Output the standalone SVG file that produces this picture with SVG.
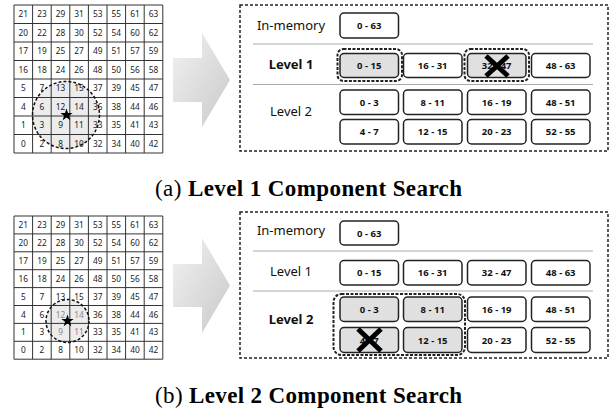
<svg xmlns="http://www.w3.org/2000/svg" width="611" height="411" viewBox="0 0 611 411">
<style>
.num{font-family:"Noto Sans","Liberation Sans",sans-serif;font-size:8.3px;fill:#222;text-anchor:middle}
.gnum{fill:#8a8a8a}
.grid{fill:none;stroke:#333;stroke-width:1}
.lbl{font-family:"Noto Sans","Liberation Sans",sans-serif;font-size:13px;fill:#111;text-anchor:middle}
.b{font-weight:bold}
.box{fill:#fff;stroke:#222;stroke-width:1.5}
.sel{fill:#e0e0e0}
.bt{font-family:"Noto Sans","Liberation Sans",sans-serif;font-size:9.5px;font-weight:bold;fill:#111;text-anchor:middle}
.panel{fill:none;stroke:#222;stroke-width:1.5;stroke-dasharray:3 2}
.dsel{fill:none;stroke:#222;stroke-width:2;stroke-dasharray:3 1.5}
.sep{stroke:#aaa;stroke-width:1}
.xm{stroke:#000;stroke-width:5}
.cap{font-family:"Liberation Serif","Times New Roman",serif;font-size:23px;fill:#000}
.arrow{fill:url(#ag)}
</style>
<defs>
<linearGradient id="ag" x1="0" y1="0" x2="1" y2="1">
<stop offset="0" stop-color="#f2f2f2"/>
<stop offset="1" stop-color="#c9c9c9"/>
</linearGradient>
<path id="star" d="M0,-6.5 L1.53,-2.1 L6.18,-2.01 L2.47,0.8 L3.82,5.26 L0,2.6 L-3.82,5.26 L-2.47,0.8 L-6.18,-2.01 L-1.53,-2.1 Z" fill="#000"/>
</defs>

<!-- ===== Top (a) grid ===== -->
<g id="gridA">
<circle cx="66" cy="115" r="33.5" fill="#ececec"/>
<path class="grid" d="M14,5 V153 M32.6,5 V153 M51.2,5 V153 M69.8,5 V153 M88.4,5 V153 M107,5 V153 M125.6,5 V153 M144.2,5 V153 M162.8,5 V153 M14,5 H162.8 M14,23.5 H162.8 M14,42 H162.8 M14,60.5 H162.8 M14,79 H162.8 M14,97.5 H162.8 M14,116 H162.8 M14,134.5 H162.8 M14,153 H162.8"/>
<g class="num">
<g transform="translate(0,17.3)"><text x="23.3">21</text><text x="41.9">23</text><text x="60.5">29</text><text x="79.1">31</text><text x="97.7">53</text><text x="116.3">55</text><text x="134.9">61</text><text x="153.5">63</text></g>
<g transform="translate(0,35.8)"><text x="23.3">20</text><text x="41.9">22</text><text x="60.5">28</text><text x="79.1">30</text><text x="97.7">52</text><text x="116.3">54</text><text x="134.9">60</text><text x="153.5">62</text></g>
<g transform="translate(0,54.3)"><text x="23.3">17</text><text x="41.9">19</text><text x="60.5">25</text><text x="79.1">27</text><text x="97.7">49</text><text x="116.3">51</text><text x="134.9">57</text><text x="153.5">59</text></g>
<g transform="translate(0,72.8)"><text x="23.3">16</text><text x="41.9">18</text><text x="60.5">24</text><text x="79.1">26</text><text x="97.7">48</text><text x="116.3">50</text><text x="134.9">56</text><text x="153.5">58</text></g>
<g transform="translate(0,91.3)"><text x="23.3">5</text><text x="41.9">7</text><text x="60.5">13</text><text x="79.1">15</text><text x="97.7">37</text><text x="116.3">39</text><text x="134.9">45</text><text x="153.5">47</text></g>
<g transform="translate(0,109.8)"><text x="23.3">4</text><text x="41.9">6</text><text x="60.5">12</text><text x="79.1">14</text><text x="97.7">36</text><text x="116.3">38</text><text x="134.9">44</text><text x="153.5">46</text></g>
<g transform="translate(0,128.3)"><text x="23.3">1</text><text x="41.9">3</text><text x="60.5">9</text><text x="79.1">11</text><text x="97.7">33</text><text x="116.3">35</text><text x="134.9">41</text><text x="153.5">43</text></g>
<g transform="translate(0,146.8)"><text x="23.3">0</text><text x="41.9">2</text><text x="60.5">8</text><text x="79.1">10</text><text x="97.7">32</text><text x="116.3">34</text><text x="134.9">40</text><text x="153.5">42</text></g>
</g>
<circle cx="66" cy="115" r="33.5" fill="none" stroke="#111" stroke-width="1.5" stroke-dasharray="3 2"/>
<use href="#star" x="66.5" y="115"/>
</g>

<!-- ===== Bottom (b) grid ===== -->
<g id="gridB">
<circle cx="67.5" cy="321" r="21.5" fill="#ececec"/>
<path class="grid" d="M14,216 V359.2 M32.6,216 V359.2 M51.2,216 V359.2 M69.8,216 V359.2 M88.4,216 V359.2 M107,216 V359.2 M125.6,216 V359.2 M144.2,216 V359.2 M162.8,216 V359.2 M14,216 H162.8 M14,233.9 H162.8 M14,251.8 H162.8 M14,269.7 H162.8 M14,287.6 H162.8 M14,305.5 H162.8 M14,323.4 H162.8 M14,341.3 H162.8 M14,359.2 H162.8"/>
<g class="num">
<g transform="translate(0,228)"><text x="23.3">21</text><text x="41.9">23</text><text x="60.5">29</text><text x="79.1">31</text><text x="97.7">53</text><text x="116.3">55</text><text x="134.9">61</text><text x="153.5">63</text></g>
<g transform="translate(0,245.9)"><text x="23.3">20</text><text x="41.9">22</text><text x="60.5">28</text><text x="79.1">30</text><text x="97.7">52</text><text x="116.3">54</text><text x="134.9">60</text><text x="153.5">62</text></g>
<g transform="translate(0,263.8)"><text x="23.3">17</text><text x="41.9">19</text><text x="60.5">25</text><text x="79.1">27</text><text x="97.7">49</text><text x="116.3">51</text><text x="134.9">57</text><text x="153.5">59</text></g>
<g transform="translate(0,281.7)"><text x="23.3">16</text><text x="41.9">18</text><text x="60.5">24</text><text x="79.1">26</text><text x="97.7">48</text><text x="116.3">50</text><text x="134.9">56</text><text x="153.5">58</text></g>
<g transform="translate(0,299.6)"><text x="23.3">5</text><text x="41.9">7</text><text x="60.5">13</text><text x="79.1">15</text><text x="97.7">37</text><text x="116.3">39</text><text x="134.9">45</text><text x="153.5">47</text></g>
<g transform="translate(0,317.5)"><text x="23.3">4</text><text x="41.9">6</text><text x="60.5" class="gnum">12</text><text x="79.1" class="gnum">14</text><text x="97.7">36</text><text x="116.3">38</text><text x="134.9">44</text><text x="153.5">46</text></g>
<g transform="translate(0,335.4)"><text x="23.3">1</text><text x="41.9">3</text><text x="60.5" class="gnum">9</text><text x="79.1" class="gnum">11</text><text x="97.7">33</text><text x="116.3">35</text><text x="134.9">41</text><text x="153.5">43</text></g>
<g transform="translate(0,353.3)"><text x="23.3">0</text><text x="41.9">2</text><text x="60.5">8</text><text x="79.1">10</text><text x="97.7">32</text><text x="116.3">34</text><text x="134.9">40</text><text x="153.5">42</text></g>
</g>
<circle cx="67.5" cy="321" r="21.5" fill="none" stroke="#111" stroke-width="1.5" stroke-dasharray="3 2"/>
<use href="#star" x="67.5" y="321"/>
</g>

<!-- ===== Arrows ===== -->
<g id="connectors">
<path class="arrow" d="M173,58 H202 V33 L230,80 L202,127 V102 H173 Z"/>
<path class="arrow" d="M173,264 H202 V238 L230,285.5 L202,333 V307 H173 Z"/>
</g>

<!-- ===== Panel (a) ===== -->
<g id="panelA">
<rect class="panel" x="240" y="5" width="368" height="146"/>
<line class="sep" x1="253" y1="44" x2="593" y2="44"/>
<line class="sep" x1="253" y1="84.5" x2="593" y2="84.5"/>
<text class="lbl" x="291" y="30">In-memory</text>
<text class="lbl b" x="291" y="69">Level 1</text>
<text class="lbl" x="291" y="116">Level 2</text>
<g id="a-mem"><rect class="box" x="340" y="13" width="58.5" height="25" rx="4"/><text class="bt" x="369.2" y="29">0 - 63</text></g>
<g id="a-l1-1"><rect class="dsel" x="337.5" y="49" width="64.5" height="32" rx="6"/><rect class="box sel" x="340" y="53.5" width="58.5" height="24" rx="4"/><text class="bt" x="369.2" y="69">0 - 15</text></g>
<g id="a-l1-2"><rect class="box" x="403.5" y="53.5" width="58.5" height="24" rx="4"/><text class="bt" x="432.7" y="69">16 - 31</text></g>
<g id="a-l1-3"><rect class="dsel" x="464.5" y="49" width="64.5" height="32" rx="6"/><rect class="box sel" x="467.5" y="53.5" width="58.5" height="24" rx="4"/><text class="bt" x="496.7" y="69">32 - 47</text><path class="xm" d="M486,56 L508,76 M508,56 L486,76"/></g>
<g id="a-l1-4"><rect class="box" x="531.5" y="53.5" width="58.5" height="24" rx="4"/><text class="bt" x="560.7" y="69">48 - 63</text></g>
<g id="a-l2-1"><rect class="box" x="340" y="90" width="58.5" height="24.5" rx="4"/><text class="bt" x="369.2" y="105.5">0 - 3</text></g>
<g id="a-l2-2"><rect class="box" x="403.5" y="90" width="58.5" height="24.5" rx="4"/><text class="bt" x="432.7" y="105.5">8 - 11</text></g>
<g id="a-l2-3"><rect class="box" x="467.5" y="90" width="58.5" height="24.5" rx="4"/><text class="bt" x="496.7" y="105.5">16 - 19</text></g>
<g id="a-l2-4"><rect class="box" x="531.5" y="90" width="58.5" height="24.5" rx="4"/><text class="bt" x="560.7" y="105.5">48 - 51</text></g>
<g id="a-l2-5"><rect class="box" x="340" y="119.5" width="58.5" height="24.5" rx="4"/><text class="bt" x="369.2" y="135">4 - 7</text></g>
<g id="a-l2-6"><rect class="box" x="403.5" y="119.5" width="58.5" height="24.5" rx="4"/><text class="bt" x="432.7" y="135">12 - 15</text></g>
<g id="a-l2-7"><rect class="box" x="467.5" y="119.5" width="58.5" height="24.5" rx="4"/><text class="bt" x="496.7" y="135">20 - 23</text></g>
<g id="a-l2-8"><rect class="box" x="531.5" y="119.5" width="58.5" height="24.5" rx="4"/><text class="bt" x="560.7" y="135">52 - 55</text></g>
</g>

<!-- ===== Panel (b) ===== -->
<g id="panelB">
<rect class="panel" x="240" y="212" width="368" height="146"/>
<line class="sep" x1="253" y1="251" x2="593" y2="251"/>
<line class="sep" x1="253" y1="291" x2="593" y2="291"/>
<text class="lbl" x="291" y="235">In-memory</text>
<text class="lbl" x="291" y="276">Level 1</text>
<text class="lbl b" x="291" y="324">Level 2</text>
<g id="b-mem"><rect class="box" x="340" y="221" width="58.5" height="24" rx="4"/><text class="bt" x="369.2" y="236.5">0 - 63</text></g>
<g id="b-l1-1"><rect class="box" x="340" y="260.5" width="58.5" height="24.5" rx="4"/><text class="bt" x="369.2" y="276">0 - 15</text></g>
<g id="b-l1-2"><rect class="box" x="403.5" y="260.5" width="58.5" height="24.5" rx="4"/><text class="bt" x="432.7" y="276">16 - 31</text></g>
<g id="b-l1-3"><rect class="box" x="467.5" y="260.5" width="58.5" height="24.5" rx="4"/><text class="bt" x="496.7" y="276">32 - 47</text></g>
<g id="b-l1-4"><rect class="box" x="531.5" y="260.5" width="58.5" height="24.5" rx="4"/><text class="bt" x="560.7" y="276">48 - 63</text></g>
<rect class="dsel" x="333.5" y="294" width="131.5" height="61" rx="8"/>
<g id="b-l2-1"><rect class="box sel" x="340" y="297" width="58.5" height="24.5" rx="4"/><text class="bt" x="369.2" y="312.5">0 - 3</text></g>
<g id="b-l2-2"><rect class="box sel" x="403.5" y="297" width="58.5" height="24.5" rx="4"/><text class="bt" x="432.7" y="312.5">8 - 11</text></g>
<g id="b-l2-3"><rect class="box" x="467.5" y="297" width="58.5" height="24.5" rx="4"/><text class="bt" x="496.7" y="312.5">16 - 19</text></g>
<g id="b-l2-4"><rect class="box" x="531.5" y="297" width="58.5" height="24.5" rx="4"/><text class="bt" x="560.7" y="312.5">48 - 51</text></g>
<g id="b-l2-5"><rect class="box sel" x="340" y="327.5" width="58.5" height="25" rx="4"/><text class="bt" x="369.2" y="343.5">4 - 7</text><path class="xm" d="M358,329 L381,351 M381,329 L358,351"/></g>
<g id="b-l2-6"><rect class="box sel" x="403.5" y="327.5" width="58.5" height="25" rx="4"/><text class="bt" x="432.7" y="343.5">12 - 15</text></g>
<g id="b-l2-7"><rect class="box" x="467.5" y="327.5" width="58.5" height="25" rx="4"/><text class="bt" x="496.7" y="343.5">20 - 23</text></g>
<g id="b-l2-8"><rect class="box" x="531.5" y="327.5" width="58.5" height="25" rx="4"/><text class="bt" x="560.7" y="343.5">52 - 55</text></g>
</g>

<!-- ===== Captions ===== -->
<text class="cap" x="155" y="196" textLength="307" lengthAdjust="spacing">(a) <tspan font-weight="bold">Level 1 Component Search</tspan></text>
<text class="cap" x="155" y="403" textLength="307" lengthAdjust="spacing">(b) <tspan font-weight="bold">Level 2 Component Search</tspan></text>
</svg>
